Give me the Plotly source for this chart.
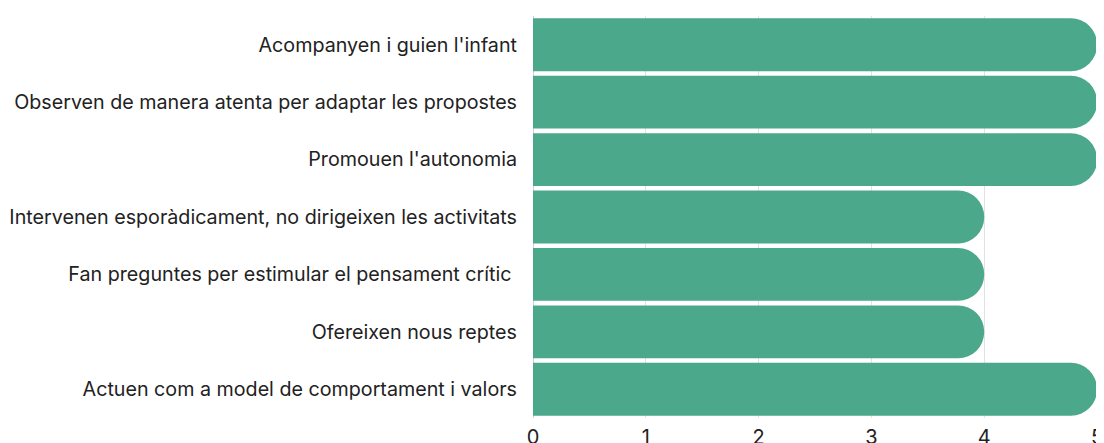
import plotly.graph_objects as go

# Dades
categories = [
    "Acompanyen i guien l'infant",
    "Observen de manera atenta per adaptar les propostes",
    "Promouen l'autonomia",
    "Intervenen esporàdicament, no dirigeixen les activitats",
    "Fan preguntes per estimular el pensament crític ",
    "Ofereixen nous reptes",
    "Actuen com a model de comportament i valors",
]
values = [5, 5, 5, 4, 4, 4, 5]
x_ticks = [0, 1, 2, 3, 4, 5]

fig = go.Figure()
fig.add_trace(go.Bar(
    x=values, y=categories,
    orientation="h",
    marker=dict(color="#4ca88a", cornerradius="50%", line=dict(width=0)),
    hoverinfo="x+y",
))

# la pàgina té 8px de marge al body, per això la figura és una mica més petita
fig.update_layout(
    width=1096, height=435,
    paper_bgcolor="white", plot_bgcolor="white",
    font=dict(family="Inter", size=19.7, color="#222222"),
    margin=dict(l=525, r=7, t=8, b=25, autoexpand=False),
    bargap=0.08,
    showlegend=False,
)
fig.update_xaxes(
    range=[0, 5], tickvals=x_ticks,
    showgrid=True, gridcolor="#e2e2e2", gridwidth=1,
    zeroline=True, zerolinecolor="#d0d0d0", zerolinewidth=1,
    ticks="outside", ticklen=1, tickcolor="rgba(0,0,0,0)",
    tickfont=dict(size=20),
    automargin=False,
)
fig.update_yaxes(
    autorange="reversed",
    showgrid=False, zeroline=False,
    ticklabelstandoff=15,
    automargin=False,
)

fig.write_html("out.html")
